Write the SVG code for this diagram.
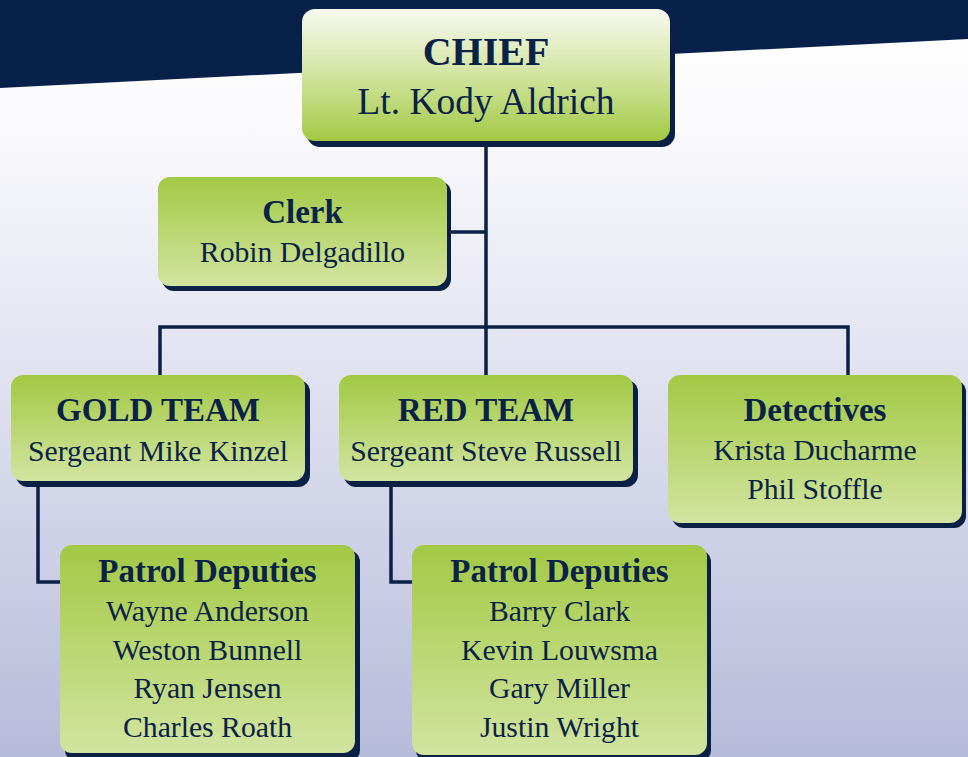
<svg xmlns="http://www.w3.org/2000/svg" width="968" height="757" viewBox="0 0 968 757">
<defs>
<linearGradient id="bg" x1="0" y1="0" x2="0" y2="1">
<stop offset="0" stop-color="#ffffff"/>
<stop offset="0.15" stop-color="#fbfbfd"/>
<stop offset="0.55" stop-color="#dcdeee"/>
<stop offset="1" stop-color="#b7bbda"/>
</linearGradient>
<linearGradient id="gTop" x1="0" y1="0" x2="0" y2="1">
<stop offset="0" stop-color="#f7f9f0"/>
<stop offset="0.45" stop-color="#d6e6a8"/>
<stop offset="1" stop-color="#a3c944"/>
</linearGradient>
<linearGradient id="gBox" x1="0" y1="0" x2="0" y2="1">
<stop offset="0" stop-color="#a2c944"/>
<stop offset="1" stop-color="#d2e4a0"/>
</linearGradient>
<style>
.sh{fill:#0a2145}
.bx{fill:url(#gBox)}
.cx{fill:url(#gTop)}
text{font-family:"Liberation Serif","DejaVu Serif",serif;fill:#0b2247;text-anchor:middle}
.t{font-weight:bold;font-size:33px}
.n{font-size:29.7px}
.lk{fill:none;stroke:#0a2145;stroke-width:3.5}
</style>
</defs>
<rect width="968" height="757" fill="url(#bg)"/>
<polygon points="0,0 968,0 968,39 0,88" fill="#08214a"/>
<g id="connectors">
<path class="lk" d="M486,140 V375"/>
<path class="lk" d="M447,232 H486"/>
<path class="lk" d="M160,375 V327 H848 V375"/>
<path class="lk" d="M38,482 V582 H62"/>
<path class="lk" d="M391,482 V582 H414"/>
</g>
<g id="chief">
<rect class="sh" x="307" y="14" width="368" height="133" rx="13"/>
<rect class="cx" x="302" y="9" width="368" height="132" rx="13"/>
<text x="486" y="65" style="font-weight:bold;font-size:40px">CHIEF</text>
<text x="486" y="114" style="font-size:37.5px">Lt. Kody Aldrich</text>
</g>
<g id="clerk">
<rect class="sh" x="162" y="181" width="289" height="110" rx="12"/>
<rect class="bx" x="158" y="177" width="289" height="109" rx="12"/>
<text class="t" x="302.5" y="223">Clerk</text>
<text class="n" x="302.5" y="262">Robin Delgadillo</text>
</g>
<g id="gold-team">
<rect class="sh" x="16" y="380" width="294" height="107" rx="12"/>
<rect class="bx" x="11" y="375" width="294" height="106" rx="12"/>
<text class="t" x="158" y="421">GOLD TEAM</text>
<text class="n" x="158" y="461">Sergeant Mike Kinzel</text>
</g>
<g id="red-team">
<rect class="sh" x="344" y="380" width="294" height="107" rx="12"/>
<rect class="bx" x="339" y="375" width="294" height="106" rx="12"/>
<text class="t" x="486" y="421">RED TEAM</text>
<text class="n" x="486" y="461">Sergeant Steve Russell</text>
</g>
<g id="detectives">
<rect class="sh" x="672" y="380" width="294" height="148" rx="12"/>
<rect class="bx" x="668" y="375" width="294" height="148" rx="12"/>
<text class="t" x="815" y="421">Detectives</text>
<text class="n" x="815" y="460">Krista Ducharme</text>
<text class="n" x="815" y="499">Phil Stoffle</text>
</g>
<g id="gold-patrol">
<rect class="sh" x="65" y="550" width="295" height="212" rx="12"/>
<rect class="bx" x="60" y="545" width="295" height="208" rx="12"/>
<text class="t" x="207.5" y="582">Patrol Deputies</text>
<text class="n" x="207.5" y="621">Wayne Anderson</text>
<text class="n" x="207.5" y="660">Weston Bunnell</text>
<text class="n" x="207.5" y="698">Ryan Jensen</text>
<text class="n" x="207.5" y="737">Charles Roath</text>
</g>
<g id="red-patrol">
<rect class="sh" x="416" y="550" width="295" height="212" rx="12"/>
<rect class="bx" x="412" y="545" width="295" height="210" rx="12"/>
<text class="t" x="559.5" y="582">Patrol Deputies</text>
<text class="n" x="559.5" y="621">Barry Clark</text>
<text class="n" x="559.5" y="660">Kevin Louwsma</text>
<text class="n" x="559.5" y="698">Gary Miller</text>
<text class="n" x="559.5" y="737">Justin Wright</text>
</g>
</svg>
